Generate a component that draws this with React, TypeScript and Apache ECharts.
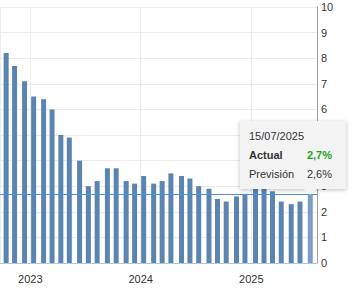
import React, { useEffect, useRef } from "react";
import * as echarts from "echarts";

const releaseDates = [
  "2022-10-13", "2022-11-10", "2022-12-13",
  "2023-01-12", "2023-02-14", "2023-03-14", "2023-04-12", "2023-05-10", "2023-06-13",
  "2023-07-12", "2023-08-10", "2023-09-13", "2023-10-12", "2023-11-14", "2023-12-12",
  "2024-01-11", "2024-02-13", "2024-03-12", "2024-04-10", "2024-05-15", "2024-06-12",
  "2024-07-11", "2024-08-14", "2024-09-11", "2024-10-10", "2024-11-13", "2024-12-11",
  "2025-01-15", "2025-02-12", "2025-03-12", "2025-04-10", "2025-05-13", "2025-06-11",
  "2025-07-15",
];
const actualValues = [
  8.2, 7.7, 7.1,
  6.5, 6.4, 6.0, 5.0, 4.9, 4.0,
  3.0, 3.2, 3.7, 3.7, 3.2, 3.1,
  3.4, 3.1, 3.2, 3.5, 3.4, 3.3,
  3.0, 2.9, 2.5, 2.4, 2.6, 2.7,
  2.9, 3.0, 2.8, 2.4, 2.3, 2.4,
  2.7,
];
const yTicks = [0, 10];
const xRange = ["2022-10-01", "2025-07-29"];
const currentLevel = 2.7;
const tooltipDate = "15/07/2025";
const tooltipRows = [
  { label: "Actual", value: "2,7%" },
  { label: "Previsión", value: "2,6%" },
];

export default function App() {
  const ref = useRef<HTMLDivElement>(null);
  useEffect(() => {
    document.body.style.margin = "0";
    const chart = echarts.init(ref.current!, null, { renderer: "svg" });
    const last = actualValues.length - 1;
    const data = releaseDates.map((d, i) => ({
      value: [d, actualValues[i]],
      itemStyle: { color: i === last ? "#7b9ec9" : "#5b84b1" },
    }));
    const font = "Liberation Sans, Arial, sans-serif";
    chart.setOption({
      animation: false,
      grid: { left: 0, right: 35, top: 7, bottom: 34 },
      xAxis: {
        type: "time",
        min: xRange[0],
        max: xRange[1],
        minInterval: 365 * 24 * 3600 * 1000,
        maxInterval: 366 * 24 * 3600 * 1000,
        axisLine: { show: true, lineStyle: { color: "#b3c5dc", width: 1 } },
        axisTick: { show: false },
        axisLabel: {
          formatter: "{yyyy}",
          color: "#333",
          fontSize: 11,
          fontFamily: font,
          margin: 10,
          showMinLabel: false,
          showMaxLabel: false,
        },
        splitLine: { show: true, lineStyle: { color: "#ebebeb", width: 1 } },
      },
      yAxis: {
        type: "value",
        position: "right",
        min: yTicks[0],
        max: yTicks[1],
        interval: 1,
        axisLine: { show: true, lineStyle: { color: "#a0a0a0" } },
        axisTick: { show: false },
        axisLabel: { color: "#333", fontSize: 11, fontFamily: font, margin: 4 },
        splitLine: { show: true, lineStyle: { color: "#ebebeb", width: 1 } },
      },
      series: [
        {
          type: "bar",
          barWidth: 5,
          data,
          markLine: {
            silent: true,
            symbol: "none",
            label: { show: false },
            lineStyle: { color: "#4a93dc", width: 1, type: "solid" },
            data: [{ yAxis: currentLevel }],
          },
        },
      ],
    });
    const tip = chart.convertToPixel({ gridIndex: 0 }, [releaseDates[last], actualValues[last]]) as number[];
    const tipX = tip[0];
    const tipY = tip[1];
    const boxRight = 346;
    const boxLeft = 240;
    const boxBottom = tipY - 5;
    const boxTop = boxBottom - 68;
    const textLeft = boxLeft + 9;
    const textRight = boxRight - 14;
    chart.setOption({
      graphic: [
        {
          type: "group",
          z: 100,
          zlevel: 1,
          children: [
            {
              type: "rect",
              z: 100,
              shape: { x: boxLeft, y: boxTop, width: boxRight - boxLeft, height: boxBottom - boxTop },
              style: { fill: "#f3f3f3", shadowBlur: 4, shadowColor: "rgba(0,0,0,0.25)", shadowOffsetY: 1 },
            },
            {
              type: "polygon",
              z: 100,
              shape: { points: [[tipX - 7, boxBottom - 0.5], [tipX + 7, boxBottom - 0.5], [tipX, tipY + 1]] },
              style: { fill: "#f3f3f3" },
            },
            {
              type: "text",
              z: 101,
              x: textLeft,
              y: boxTop + 15,
              style: { text: tooltipDate, fill: "#333", font: `11px ${font}`, verticalAlign: "middle" },
            },
            {
              type: "text",
              z: 101,
              x: textLeft,
              y: boxTop + 34,
              style: { text: tooltipRows[0].label, fill: "#333", font: `bold 11px ${font}`, verticalAlign: "middle" },
            },
            {
              type: "text",
              z: 101,
              x: textRight,
              y: boxTop + 34,
              style: { text: tooltipRows[0].value, fill: "#1ea51e", font: `bold 11px ${font}`, align: "right", verticalAlign: "middle" },
            },
            {
              type: "text",
              z: 101,
              x: textLeft,
              y: boxTop + 53,
              style: { text: tooltipRows[1].label, fill: "#333", font: `11px ${font}`, verticalAlign: "middle" },
            },
            {
              type: "text",
              z: 101,
              x: textRight,
              y: boxTop + 53,
              style: { text: tooltipRows[1].value, fill: "#333", font: `11px ${font}`, align: "right", verticalAlign: "middle" },
            },
          ],
        },
      ],
    });
    return () => chart.dispose();
  }, []);
  return <div ref={ref} style={{ width: 352, height: 297 }} />;
}
